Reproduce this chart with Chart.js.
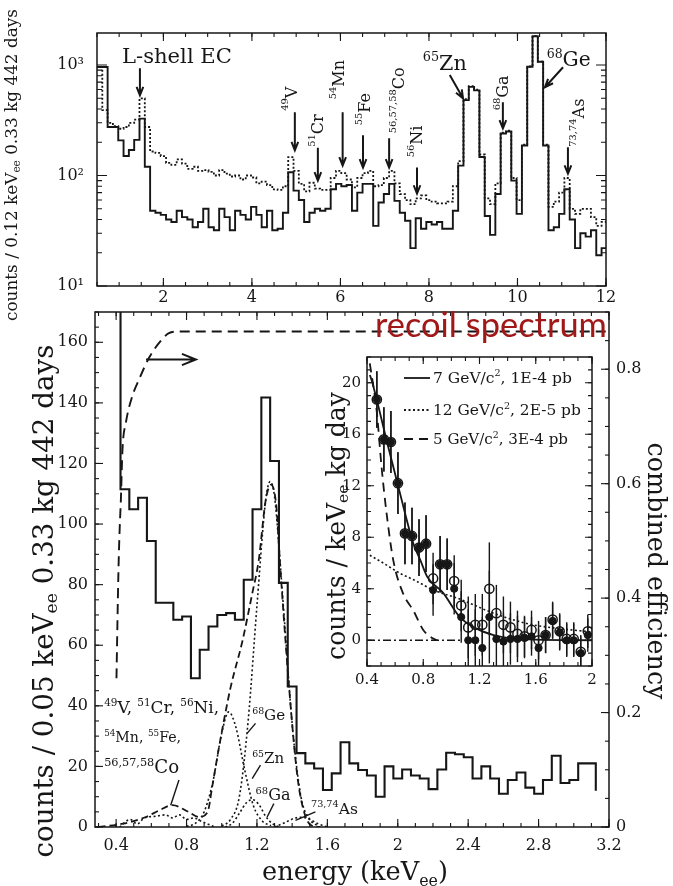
<!DOCTYPE html>
<html>
<head>
<meta charset="utf-8">
<script src="https://cdn.jsdelivr.net/npm/chart.js@4.4.1/dist/chart.umd.min.js"></script>
<style>
  html, body { margin: 0; padding: 0; background: #fff; }
  #wrap { position: relative; width: 673px; height: 886px; overflow: hidden; background: #fff; }
  #wrap canvas { position: absolute; left: 0; top: 0; }
</style>
</head>
<body>
<div id="wrap">
  <canvas id="topChart" width="673" height="886"></canvas>
  <canvas id="mainChart" width="673" height="886"></canvas>
  <canvas id="insetChart" width="673" height="886"></canvas>
</div>
<script>
// ---------------- data ----------------
// top panel: 0.12 keV bins starting at 0.5 keV
const topBinStart = 0.5, topBinWidth = 0.12;
const topAllEvents = [960, 390, 300, 280, 265, 275, 300, 320, 500, 275, 165, 160, 150, 130, 125, 140,
  128, 115, 120, 110, 112, 108, 100, 112, 104, 98, 100, 92, 100, 96, 85, 88, 82, 75, 74, 80, 147,
  110, 84, 72, 86, 76, 74, 74, 95, 110, 105, 92, 78, 95, 105, 110, 80, 82, 95, 110, 85, 68, 60, 55,
  62, 66, 60, 58, 56, 56, 58, 80, 135, 490, 645, 600, 155, 62, 55, 85, 245, 255, 95, 60, 190, 970,
  1830, 1075, 190, 52, 58, 70, 95, 50, 45, 50, 50, 42, 35, 38];
const topAfterCuts = [960, 960, 275, 275, 208, 150, 170, 210, 327, 120, 48, 46, 44, 40, 38, 48,
  42, 40, 34, 38, 50, 34, 32, 50, 42, 32, 48, 44, 40, 52, 44, 34, 48, 32, 33, 46, 107,
  73, 60, 38, 46, 50, 48, 50, 75, 84, 80, 82, 48, 70, 84, 84, 35, 57, 68, 84, 59, 46, 39, 22,
  41, 33, 38, 36, 38, 33, 33, 48, 123, 481, 635, 590, 147, 43, 29, 68, 240, 250, 90, 45, 187, 966,
  1820, 1070, 187, 32, 34, 45, 75, 40, 22, 30, 28, 32, 19, 22];
const topXTicks = [2, 4, 6, 8, 10, 12];
const topXLabels = ['2', '4', '6', '8', '10', '12'];
const topYTicks = [10, 100, 1000];
const topYLabels = ['10¹', '10²', '10³'];

// bottom panel: 0.05 keV bins starting at 0.375 keV (first bin is off scale,
// last value is the next bin of which only the left edge is drawn)
const lowBinStart = 0.375, lowBinWidth = 0.05;
const lowCounts = [300, 111.5, 104.9, 108.7, 94.4, 74, 74, 68.4, 69.5, 49.1, 58.5, 66.2, 70, 70.6,
  68.4, 81.6, 104.9, 141.8, 120.8, 80.6, 46.4, 24.4, 21, 19.3, 12.2, 17.7, 28, 21, 18.8, 17, 10,
  20, 16, 19, 17, 16, 12.5, 19, 24.5, 24, 23, 16, 20, 16, 11, 15.5, 18, 13, 11, 15.5, 23.5, 14.5,
  15.5, 21, 21, 12];
const effE = [0.402, 0.41, 0.415, 0.42, 0.427, 0.436, 0.455, 0.492, 0.53, 0.587, 0.644, 0.70, 0.757, 3.2];
const effV = [0.26, 0.40, 0.47, 0.52, 0.572, 0.659, 0.706, 0.753, 0.782, 0.82, 0.846, 0.863, 0.866, 0.866];
const sumE = [0.30, 0.44, 0.57, 0.645, 0.72, 0.81, 0.87, 0.92, 0.945, 0.985, 1.05, 1.116, 1.173, 1.21,
  1.25, 1.28, 1.31, 1.33, 1.38, 1.43, 1.47, 1.51, 1.56];
const sumV = [0, 1.1, 3.3, 5.5, 7.2, 5, 3.3, 5, 13, 26.5, 46, 61, 77, 88, 108, 113, 106, 88, 48, 16.6, 4.5, 0.5, 0];
const geE = [1.00, 1.05, 1.10, 1.15, 1.20, 1.25, 1.275, 1.30, 1.35, 1.40, 1.45, 1.50, 1.55];
const geV = [0.3, 2.5, 10, 35, 73, 108, 114, 109, 73, 34, 10, 2.5, 0.3];
const znE = [0.80, 0.85, 0.90, 0.95, 1.00, 1.04, 1.08, 1.13, 1.18, 1.23, 1.28];
const znV = [0.2, 1.2, 5, 15, 31, 38, 33, 19, 7, 2, 0.4];
const gaE = [1.02, 1.06, 1.10, 1.14, 1.175, 1.21, 1.25, 1.29, 1.33];
const gaV = [0, 1.2, 4.5, 8, 9, 7.5, 3.5, 1, 0];
const asE = [1.30, 1.36, 1.42, 1.46, 1.50, 1.55, 1.60];
const asV = [0, 1.5, 3, 3.2, 2.5, 1, 0];
const lightE = [0.42, 0.48, 0.52, 0.56, 0.62, 0.68, 0.72, 0.76, 0.80, 0.84, 0.88, 0.92, 0.96];
const lightV = [0, 2.5, 1, 3, 3.5, 4, 3, 4, 2.5, 3, 2, 1, 0];
const mainXTicks = [0.4, 0.8, 1.2, 1.6, 2, 2.4, 2.8, 3.2];
const mainXLabels = ['0.4', '0.8', '1.2', '1.6', '2', '2.4', '2.8', '3.2'];
const mainYTicks = [0, 20, 40, 60, 80, 100, 120, 140, 160];
const mainYLabels = ['0', '20', '40', '60', '80', '100', '120', '140', '160'];
const effTicks = [0, 0.2, 0.4, 0.6, 0.8];
const effLabels = ['0', '0.2', '0.4', '0.6', '0.8'];

// inset
const inE = [0.47, 0.52, 0.57, 0.62, 0.67, 0.72, 0.77, 0.82, 0.87, 0.92, 0.97, 1.02, 1.07, 1.12, 1.17,
  1.22, 1.27, 1.32, 1.37, 1.42, 1.47, 1.52, 1.57, 1.62, 1.67, 1.72, 1.77, 1.82, 1.87, 1.92, 1.97];
const inOpen = [18.7, 15.6, 15.4, 12.2, 8.3, 8.1, 7.2, 7.5, 4.8, 5.9, 5.9, 4.6, 2.7, 1.0, 1.2, 1.2,
  4.0, 2.1, 1.2, 1.0, 0.5, 0.3, 0.8, 0.0, 0.4, 1.6, 0.7, 0.1, 0.1, -0.9, 0.7];
const inFilled = [18.7, 15.6, 15.4, 12.2, 8.3, 8.1, 7.2, 7.5, 3.9, 5.9, 5.9, 4.0, 1.8, 0.0, 0.0, -0.6,
  1.8, 0.1, -0.1, 0.1, 0.1, 0.2, 0.3, -0.6, 0.4, 1.5, 0.6, 0.0, 0.0, -1.0, 0.4];
const inErr = [2.2, 2.5, 2.4, 2.4, 2.4, 2.2, 2.2, 2.2, 2.0, 2.2, 2.0, 2.0, 2.0, 2.4, 2.4, 2.4, 3.6,
  2.2, 2.2, 2.0, 1.8, 1.6, 1.5, 1.5, 1.4, 1.4, 1.4, 1.3, 1.3, 1.3, 1.3];
const m7E = [0.42, 0.433, 0.54, 0.635, 0.73, 0.78, 0.83, 0.94, 1.06, 1.18, 1.30, 1.42, 1.6, 2.0];
const m7V = [20.6, 20.2, 15.5, 11.4, 7.5, 6.2, 4.9, 3.7, 1.8, 0.9, 0.4, 0.15, 0.05, 0];
const m12E = [0.42, 0.5, 0.635, 0.75, 0.872, 1.06, 1.3, 1.536, 1.77, 2.0];
const m12V = [6.6, 6.1, 5.2, 4.6, 3.9, 3.2, 2.1, 1.3, 0.9, 0.65];
const m5E = [0.42, 0.469, 0.504, 0.54, 0.587, 0.658, 0.73, 0.8, 0.86, 0.9];
const m5V = [21.5, 17.8, 13.4, 9.8, 6.2, 3.6, 2.3, 0.8, 0.2, 0];
const baseE = [0.4, 1.08];
const baseV = [0, 0];
const insetXTicks = [0.4, 0.8, 1.2, 1.6, 2];
const insetXLabels = ['0.4', '0.8', '1.2', '1.6', '2'];
const insetYTicks = [0, 4, 8, 12, 16, 20];
const insetYLabels = ['0', '4', '8', '12', '16', '20'];
const insetLegend = [
  [['7 GeV/c'], ['2', 'sup'], [', 1E-4 pb']],
  [['12 GeV/c'], ['2', 'sup'], [', 2E-5 pb']],
  [['5 GeV/c'], ['2', 'sup'], [', 3E-4 pb']]
];

// ---------------- helpers ----------------
const SERIF = '"DejaVu Serif", serif';
const INK = '#161616';
const W = 673, H = 886;

function range(lo, hi, step) {
  const out = [];
  for (let v = lo; v <= hi + step * 1e-6; v += step) out.push(Math.round(v * 1e6) / 1e6);
  return out;
}
function stepPoints(start, width, vals) {
  const pts = [];
  vals.forEach((v, i) => {
    pts.push({ x: start + i * width, y: v });
    pts.push({ x: start + (i + 1) * width, y: v });
  });
  return pts;
}
function pairs(xs, ys) { return xs.map((x, i) => ({ x: x, y: ys[i] })); }

function axis(extra, vals, labels, size, pad, fit) {
  return Object.assign({
    afterBuildTicks: s => { s.ticks = vals.map(v => ({ value: v })); },
    ticks: {
      font: { family: SERIF, size: size }, color: INK, padding: pad,
      autoSkip: false, maxRotation: 0, minRotation: 0,
      callback: v => { const i = vals.indexOf(v); return i < 0 ? '' : labels[i]; }
    },
    grid: { display: false, drawTicks: false },
    border: { display: false },
    afterFit: fit
  }, extra);
}

function richWidth(ctx, parts, f, fam) {
  let w = 0;
  parts.forEach(p => {
    ctx.font = (p[1] ? f * 0.62 : f) + 'px ' + fam;
    w += ctx.measureText(p[0]).width;
  });
  return w;
}
function drawRich(ctx, parts, x, y, o) {
  const fam = o.family || SERIF;
  let f = o.size || 16;
  if (o.width) f = f * o.width / richWidth(ctx, parts, f, fam);
  const w = richWidth(ctx, parts, f, fam);
  ctx.save();
  ctx.translate(x, y);
  if (o.rot) ctx.rotate(o.rot);
  ctx.textBaseline = o.base || 'alphabetic';
  ctx.textAlign = 'left';
  ctx.fillStyle = o.color || INK;
  let cx = o.align === 'center' ? -w / 2 : 0;
  parts.forEach(p => {
    ctx.font = (p[1] ? f * 0.62 : f) + 'px ' + fam;
    const dy = p[1] === 'sup' ? -f * 0.42 : p[1] === 'sub' ? f * 0.24 : 0;
    ctx.fillText(p[0], cx, dy);
    cx += ctx.measureText(p[0]).width;
  });
  ctx.restore();
}
function arrow(ctx, x1, y1, x2, y2, head) {
  const a = Math.atan2(y2 - y1, x2 - x1);
  ctx.beginPath();
  ctx.moveTo(x1, y1); ctx.lineTo(x2, y2);
  ctx.moveTo(x2 - head * Math.cos(a - 0.38), y2 - head * Math.sin(a - 0.38));
  ctx.lineTo(x2, y2);
  ctx.lineTo(x2 - head * Math.cos(a + 0.38), y2 - head * Math.sin(a + 0.38));
  ctx.stroke();
}
function frameTicks(chart, specs) {
  const ctx = chart.ctx, a = chart.chartArea;
  ctx.save();
  ctx.strokeStyle = INK;
  ctx.lineWidth = 1.5;
  ctx.strokeRect(a.left, a.top, a.right - a.left, a.bottom - a.top);
  ctx.lineWidth = 1.1;
  specs.forEach(sp => {
    const s = chart.scales[sp.id];
    sp.vals.forEach(v => {
      if (v < s.min || v > s.max) return;
      const p = s.getPixelForValue(v);
      ctx.beginPath();
      sp.sides.forEach(side => {
        if (side === 'b') { ctx.moveTo(p, a.bottom); ctx.lineTo(p, a.bottom - sp.len); }
        if (side === 't') { ctx.moveTo(p, a.top); ctx.lineTo(p, a.top + sp.len); }
        if (side === 'l') { ctx.moveTo(a.left, p); ctx.lineTo(a.left + sp.len, p); }
        if (side === 'r') { ctx.moveTo(a.right, p); ctx.lineTo(a.right - sp.len, p); }
      });
      ctx.stroke();
    });
  });
  ctx.restore();
}
const lineBase = { pointRadius: 0, fill: false, borderColor: INK, tension: 0, borderJoinStyle: 'miter' };
const common = { responsive: false, animation: false, events: [],
  plugins: { legend: { display: false }, tooltip: { enabled: false } } };

// ---------------- top panel ----------------
const topNotes = [
  { parts: [['L-shell EC']], x: 1.065, y: 1042, width: 110 },
  { parts: [['65', 'sup'], ['Zn']], x: 7.86, y: 901, width: 44 },
  { parts: [['68', 'sup'], ['Ge']], x: 10.66, y: 978, width: 44 },
  { parts: [['49', 'sup'], ['V']], x: 4.92, y: 385, rot: true },
  { parts: [['51', 'sup'], ['Cr']], x: 5.52, y: 182, rot: true },
  { parts: [['54', 'sup'], ['Mn']], x: 5.99, y: 490, rot: true },
  { parts: [['55', 'sup'], ['Fe']], x: 6.58, y: 285, rot: true },
  { parts: [['56,57,58', 'sup'], ['Co']], x: 7.34, y: 241, rot: true },
  { parts: [['56', 'sup'], ['Ni']], x: 7.75, y: 146, rot: true },
  { parts: [['68', 'sup'], ['Ga']], x: 9.69, y: 389, rot: true },
  { parts: [['73,74', 'sup'], ['As']], x: 11.41, y: 182, rot: true }
];
const topArrows = [
  [1.47, 937, 1.47, 533], [4.97, 374, 4.97, 169], [5.49, 178, 5.49, 90], [6.05, 374, 6.05, 123],
  [6.51, 231, 6.51, 118], [7.10, 217, 7.10, 118], [7.73, 118, 7.73, 68.6], [8.47, 811, 8.77, 500],
  [9.67, 461, 9.67, 267], [11.03, 955, 10.62, 630], [11.14, 180, 11.14, 104]
];

new Chart(document.getElementById('topChart'), {
  type: 'line',
  data: { datasets: [
    Object.assign({ data: stepPoints(topBinStart, topBinWidth, topAfterCuts), borderWidth: 1.9 }, lineBase),
    Object.assign({ data: stepPoints(topBinStart, topBinWidth, topAllEvents), borderWidth: 1.8, borderDash: [2, 2] }, lineBase)
  ] },
  options: Object.assign({}, common, {
    layout: { padding: { left: 37, top: 33, right: 67, bottom: 570 } },
    scales: {
      x: axis({ type: 'linear', min: 0.5, max: 12 }, topXTicks, topXLabels, 16, 2, s => { s.height = 30; }),
      y: axis({ type: 'logarithmic', min: 10, max: 1950 }, topYTicks, topYLabels, 16, 13, s => { s.width = 60; })
    }
  }),
  plugins: [{
    id: 'topDeco',
    afterDraw(chart) {
      const ctx = chart.ctx, sx = chart.scales.x, sy = chart.scales.y;
      const logMinor = [];
      [10, 100, 1000].forEach(d => { for (let k = 2; k <= 9; k++) logMinor.push(k * d); });
      frameTicks(chart, [
        { id: 'x', vals: topXTicks, sides: ['b', 't'], len: 8 },
        { id: 'x', vals: range(0.5, 12, 0.5), sides: ['b', 't'], len: 4 },
        { id: 'y', vals: topYTicks, sides: ['l', 'r'], len: 10 },
        { id: 'y', vals: logMinor, sides: ['l', 'r'], len: 5 }
      ]);
      ctx.save();
      ctx.strokeStyle = INK; ctx.lineWidth = 2;
      topArrows.forEach(a => arrow(ctx, sx.getPixelForValue(a[0]), sy.getPixelForValue(a[1]),
        sx.getPixelForValue(a[2]), sy.getPixelForValue(a[3]), 9));
      ctx.restore();
      topNotes.forEach(n => {
        const px = sx.getPixelForValue(n.x), py = sy.getPixelForValue(n.y);
        if (n.rot) drawRich(ctx, n.parts, px, py, { size: 16, rot: -Math.PI / 2, base: 'middle' });
        else drawRich(ctx, n.parts, px, py, { size: 18, width: n.width });
      });
      drawRich(ctx, [['counts / 0.12 keV'], ['ee', 'sub'], [' 0.33 kg 442 days']], 13, 165,
        { width: 312, size: 14, rot: -Math.PI / 2, base: 'middle', align: 'center' });
    }
  }]
});

// ---------------- bottom panel ----------------
const lowHist = stepPoints(lowBinStart, lowBinWidth, lowCounts.slice(0, -1));
lowHist.push({ x: lowBinStart + (lowCounts.length - 1) * lowBinWidth, y: lowCounts[lowCounts.length - 1] });

const mainNotes = [
  { parts: [['49', 'sup'], ['V, '], ['51', 'sup'], ['Cr, '], ['56', 'sup'], ['Ni,']], x: 0.332, y: 37.6, width: 115 },
  { parts: [['54', 'sup'], ['Mn, '], ['55', 'sup'], ['Fe,']], x: 0.332, y: 28.1, width: 77 },
  { parts: [['56,57,58', 'sup'], ['Co']], x: 0.332, y: 17.7, width: 75 },
  { parts: [['68', 'sup'], ['Ge']], x: 1.173, y: 35.3, width: 33 },
  { parts: [['65', 'sup'], ['Zn']], x: 1.173, y: 21, width: 32 },
  { parts: [['68', 'sup'], ['Ga']], x: 1.192, y: 8.8, width: 35 },
  { parts: [['73,74', 'sup'], ['As']], x: 1.507, y: 4.4, width: 47 }
];
const mainPointers = [
  [0.757, 15.5, 0.71, 7.2], [1.192, 34.2, 1.144, 30.9], [1.22, 20.4, 1.173, 16],
  [1.296, 7.7, 1.258, 3.3], [1.532, 5, 1.419, 2.2]
];
const curve = { cubicInterpolationMode: 'monotone', borderWidth: 1.6 };

new Chart(document.getElementById('mainChart'), {
  type: 'line',
  data: { datasets: [
    Object.assign({ data: lowHist, borderWidth: 2.1 }, lineBase),
    Object.assign({ data: pairs(effE, effV), yAxisID: 'y2', borderWidth: 1.9, borderDash: [10, 6] }, lineBase, { cubicInterpolationMode: 'monotone' }),
    Object.assign({ data: pairs(sumE, sumV), borderDash: [7, 4] }, lineBase, curve, { borderWidth: 1.8 }),
    Object.assign({ data: pairs(geE, geV), borderDash: [2, 2.5] }, lineBase, curve),
    Object.assign({ data: pairs(znE, znV), borderDash: [2, 2.5] }, lineBase, curve),
    Object.assign({ data: pairs(gaE, gaV), borderDash: [2, 2.5] }, lineBase, curve),
    Object.assign({ data: pairs(asE, asV), borderDash: [2, 2.5] }, lineBase, curve),
    Object.assign({ data: pairs(lightE, lightV), borderDash: [2, 2.5] }, lineBase, curve)
  ] },
  options: Object.assign({}, common, {
    layout: { padding: { left: 45, top: 312, right: 14, bottom: 29 } },
    scales: {
      x: axis({ type: 'linear', min: 0.28, max: 3.2 }, mainXTicks, mainXLabels, 16, 9, s => { s.height = 30; }),
      y: axis({ type: 'linear', min: 0, max: 170, position: 'left' }, mainYTicks, mainYLabels, 16, 7, s => { s.width = 50; }),
      y2: axis({ type: 'linear', min: 0, max: 0.9, position: 'right' }, effTicks, effLabels, 16, 7, s => { s.width = 50; })
    }
  }),
  plugins: [{
    id: 'mainDeco',
    afterDraw(chart) {
      const ctx = chart.ctx, sx = chart.scales.x, sy = chart.scales.y, se = chart.scales.y2;
      frameTicks(chart, [
        { id: 'x', vals: mainXTicks, sides: ['b', 't'], len: 8 },
        { id: 'x', vals: range(0.3, 3.2, 0.1), sides: ['b', 't'], len: 4 },
        { id: 'y', vals: mainYTicks, sides: ['l'], len: 8 },
        { id: 'y', vals: range(0, 170, 5), sides: ['l'], len: 4 },
        { id: 'y2', vals: effTicks, sides: ['r'], len: 8 },
        { id: 'y2', vals: range(0, 0.9, 0.05), sides: ['r'], len: 4 }
      ]);
      ctx.save();
      ctx.strokeStyle = INK; ctx.lineWidth = 2;
      arrow(ctx, sx.getPixelForValue(0.57), se.getPixelForValue(0.817),
        sx.getPixelForValue(0.853), se.getPixelForValue(0.817), 15);
      ctx.lineWidth = 1.4;
      mainPointers.forEach(p => {
        ctx.beginPath();
        ctx.moveTo(sx.getPixelForValue(p[0]), sy.getPixelForValue(p[1]));
        ctx.lineTo(sx.getPixelForValue(p[2]), sy.getPixelForValue(p[3]));
        ctx.stroke();
      });
      ctx.restore();
      mainNotes.forEach(n => drawRich(ctx, n.parts, sx.getPixelForValue(n.x), sy.getPixelForValue(n.y),
        { size: 15, width: n.width }));
      drawRich(ctx, [['counts / 0.05 keV'], ['ee', 'sub'], [' 0.33 kg 442 days']], 46, 601,
        { width: 513, size: 24, rot: -Math.PI / 2, base: 'middle', align: 'center' });
      drawRich(ctx, [['combined efficiency']], 655, 571,
        { width: 257, size: 24, rot: Math.PI / 2, base: 'middle', align: 'center' });
      drawRich(ctx, [['energy (keV'], ['ee', 'sub'], [')']], 355, 880,
        { width: 186, size: 24, align: 'center' });
      drawRich(ctx, [['recoil spectrum']], 375, 337,
        { width: 232, size: 30, family: 'Lato, "Open Sans", sans-serif', color: '#a01818' });
    }
  }]
});

// ---------------- inset ----------------
new Chart(document.getElementById('insetChart'), {
  type: 'line',
  data: { datasets: [
    { data: pairs(inE, inFilled), showLine: false, pointRadius: 3.6, pointBackgroundColor: INK, pointBorderColor: INK, pointBorderWidth: 1 },
    { data: pairs(inE, inOpen), showLine: false, pointRadius: 4.6, pointBackgroundColor: 'rgba(255,255,255,0)', pointBorderColor: INK, pointBorderWidth: 1.5 },
    Object.assign({ data: pairs(m7E, m7V), borderWidth: 1.8 }, lineBase, { cubicInterpolationMode: 'monotone' }),
    Object.assign({ data: pairs(m12E, m12V), borderWidth: 1.6, borderDash: [2, 2.5] }, lineBase, { cubicInterpolationMode: 'monotone' }),
    Object.assign({ data: pairs(m5E, m5V), borderWidth: 1.8, borderDash: [9, 6] }, lineBase, { cubicInterpolationMode: 'monotone' }),
    Object.assign({ data: pairs(baseE, baseV), borderWidth: 1.5, borderDash: [8, 3, 2, 3] }, lineBase)
  ] },
  options: Object.assign({}, common, {
    layout: { padding: { left: 337, top: 357, right: 81, bottom: 198 } },
    scales: {
      x: axis({ type: 'linear', min: 0.4, max: 2 }, insetXTicks, insetXLabels, 15, 5, s => { s.height = 22; }),
      y: axis({ type: 'linear', min: -2, max: 22 }, insetYTicks, insetYLabels, 15, 6, s => { s.width = 30; })
    }
  }),
  plugins: [{
    id: 'insetDeco',
    beforeDatasetsDraw(chart) {
      const ctx = chart.ctx, a = chart.chartArea, sx = chart.scales.x, sy = chart.scales.y;
      ctx.save();
      ctx.fillStyle = '#fff';
      ctx.fillRect(a.left, a.top, a.right - a.left, a.bottom - a.top);
      ctx.beginPath();
      ctx.rect(a.left, a.top, a.right - a.left, a.bottom - a.top);
      ctx.clip();
      ctx.strokeStyle = INK; ctx.lineWidth = 1.4;
      [inOpen, inFilled].forEach(set => {
        set.forEach((v, i) => {
          const px = sx.getPixelForValue(inE[i]);
          ctx.beginPath();
          ctx.moveTo(px, sy.getPixelForValue(v - inErr[i]));
          ctx.lineTo(px, sy.getPixelForValue(v + inErr[i]));
          ctx.stroke();
        });
      });
      ctx.restore();
    },
    afterDraw(chart) {
      const ctx = chart.ctx, a = chart.chartArea;
      frameTicks(chart, [
        { id: 'x', vals: insetXTicks, sides: ['b', 't'], len: 7 },
        { id: 'x', vals: range(0.4, 2, 0.1), sides: ['b', 't'], len: 4 },
        { id: 'y', vals: insetYTicks, sides: ['l', 'r'], len: 7 },
        { id: 'y', vals: range(-2, 22, 1), sides: ['l', 'r'], len: 4 }
      ]);
      const dashes = [[], [2, 2.5], [9, 6]];
      const rows = [21, 53, 82];
      const widths = [139, 148, 135];
      ctx.save();
      ctx.strokeStyle = INK; ctx.lineWidth = 1.8;
      rows.forEach((dy, i) => {
        ctx.setLineDash(dashes[i]);
        ctx.beginPath();
        ctx.moveTo(a.left + 37, a.top + dy); ctx.lineTo(a.left + 63, a.top + dy);
        ctx.stroke();
      });
      ctx.restore();
      insetLegend.forEach((parts, i) => drawRich(ctx, parts, a.left + 66, a.top + rows[i] + 5,
        { size: 14, width: widths[i] }));
      drawRich(ctx, [['counts / keV'], ['ee', 'sub'], [' kg day']], 338, 526,
        { width: 268, size: 22, rot: -Math.PI / 2, base: 'middle', align: 'center' });
    }
  }]
});
</script>
</body>
</html>
